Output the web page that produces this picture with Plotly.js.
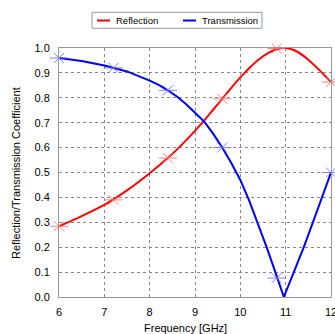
<!DOCTYPE html>
<html><head><meta charset="utf-8">
<script src="https://cdn.plot.ly/plotly-3.0.1.min.js"></script>
<style>html,body{margin:0;padding:0;background:#fff;}#chart{width:335px;height:334px;}</style>
</head><body><div id="chart"></div>
<script>
// Reflection curve
const reflFreq = [6.0, 6.5, 7.0, 7.5, 8.0, 8.4, 8.7, 9.0, 9.2, 9.4, 9.6, 9.8, 10.0, 10.2, 10.4, 10.6, 10.8, 11.0, 11.25, 11.5, 11.75, 12.0];
const reflVal  = [0.284, 0.325, 0.37, 0.428, 0.497, 0.558, 0.61, 0.667, 0.708, 0.752, 0.796, 0.84, 0.882, 0.92, 0.953, 0.978, 0.995, 1.0, 0.986, 0.953, 0.91, 0.863];
// Transmission curve
const transFreq = [6.0, 6.5, 7.0, 7.5, 8.0, 8.2, 8.4, 8.6, 8.8, 9.0, 9.2, 9.4, 9.6, 9.8, 10.0, 10.2, 10.4, 10.6, 10.8, 10.96, 11.18, 11.4, 11.6, 11.8, 12.0];
const transVal  = [0.96, 0.948, 0.93, 0.906, 0.869, 0.852, 0.83, 0.805, 0.775, 0.742, 0.705, 0.656, 0.60, 0.538, 0.47, 0.385, 0.29, 0.19, 0.085, 0.0, 0.1, 0.2, 0.3, 0.4, 0.5];
// Marker samples
const markFreq  = [6.0, 7.2, 8.4, 9.6, 10.8, 12.0];
const reflMark  = [0.284, 0.39, 0.558, 0.796, 0.998, 0.863];
const transMark = [0.96, 0.92, 0.83, 0.60, 0.076, 0.5];
const seriesNames = ['Reflection', 'Transmission'];
const xTitle = 'Frequency [GHz]';
const yTitle = 'Reflection/Transmission Coefficient';

// pixel -> paper helpers for layout placement (plot area 59..331 x 48..297)
const L = 59, R = 4, T = 48, B = 37, W = 335, H = 334;
const PW = W - L - R, PH = H - T - B;
const px = v => (v - L) / PW;
const py = v => (H - B - v) / PH;

function markerTraces(y, col) {
  return [
    {x: markFreq, y: y, mode: 'markers', showlegend: false, hoverinfo: 'skip', cliponaxis: false,
     marker: {symbol: 'x-thin-open', size: 10, color: col, line: {color: col, width: 1}}},
    {x: markFreq, y: y, mode: 'markers', showlegend: false, hoverinfo: 'skip', cliponaxis: false,
     marker: {symbol: 'line-ew-open', size: 13, color: col, line: {color: col, width: 1}}}
  ];
}

const traces = [
  {x: reflFreq, y: reflVal, mode: 'lines', name: seriesNames[0], line: {color: '#ff0000', width: 2, shape: 'spline', smoothing: 0.6}},
  {x: transFreq, y: transVal, mode: 'lines', name: seriesNames[1], line: {color: '#0000ff', width: 2, shape: 'linear'}}
].concat(markerTraces(reflMark, 'rgba(255,110,110,0.85)'), markerTraces(transMark, 'rgba(110,110,255,0.85)'));

const legendFont = {family: 'Liberation Sans, Arial, sans-serif', size: 9.5, color: '#000'};
const layout = {
  width: W, height: H,
  margin: {l: L, r: R, t: T, b: B},
  paper_bgcolor: '#fff', plot_bgcolor: '#fff',
  font: {family: 'Liberation Sans, Arial, sans-serif', size: 11, color: '#000'},
  showlegend: false,
  xaxis: {range: [6, 12], dtick: 1, tick0: 6, showline: true, mirror: true, linecolor: '#999', linewidth: 1,
          showgrid: true, gridcolor: '#888', griddash: 'dot', gridwidth: 1, zeroline: false,
          ticks: '', ticklabelstandoff: 5, ticklabeloverflow: 'allow'},
  yaxis: {range: [0, 1], dtick: 0.1, tick0: 0, tickformat: '.1f', showline: true, mirror: true, linecolor: '#999', linewidth: 1,
          showgrid: true, gridcolor: '#888', griddash: 'dot', gridwidth: 1, zeroline: false,
          ticks: '', ticklabelstandoff: 6},
  shapes: [
    {type: 'rect', xref: 'paper', yref: 'paper', x0: px(92), x1: px(262), y0: py(28.3), y1: py(12.3),
     line: {color: '#999', width: 1}, fillcolor: '#fff'},
    {type: 'line', xref: 'paper', yref: 'paper', x0: px(97), x1: px(110), y0: py(20.5), y1: py(20.5),
     line: {color: '#ff0000', width: 2}},
    {type: 'line', xref: 'paper', yref: 'paper', x0: px(183), x1: px(196), y0: py(20.5), y1: py(20.5),
     line: {color: '#0000ff', width: 2}}
  ],
  annotations: [
    {text: seriesNames[0], xref: 'paper', yref: 'paper', x: px(114), y: py(20.5), xanchor: 'left', yanchor: 'middle', showarrow: false, font: legendFont},
    {text: seriesNames[1], xref: 'paper', yref: 'paper', x: px(200), y: py(20.5), xanchor: 'left', yanchor: 'middle', showarrow: false, font: legendFont},
    {text: xTitle, xref: 'paper', yref: 'paper', x: px(185), y: py(328), xanchor: 'center', yanchor: 'middle', showarrow: false, font: {size: 11}},
    {text: yTitle, xref: 'paper', yref: 'paper', x: px(16), y: py(173), xanchor: 'center', yanchor: 'middle', textangle: -90, showarrow: false, font: {size: 11}}
  ]
};
Plotly.newPlot('chart', traces, layout, {displayModeBar: false, staticPlot: true});
</script></body></html>
